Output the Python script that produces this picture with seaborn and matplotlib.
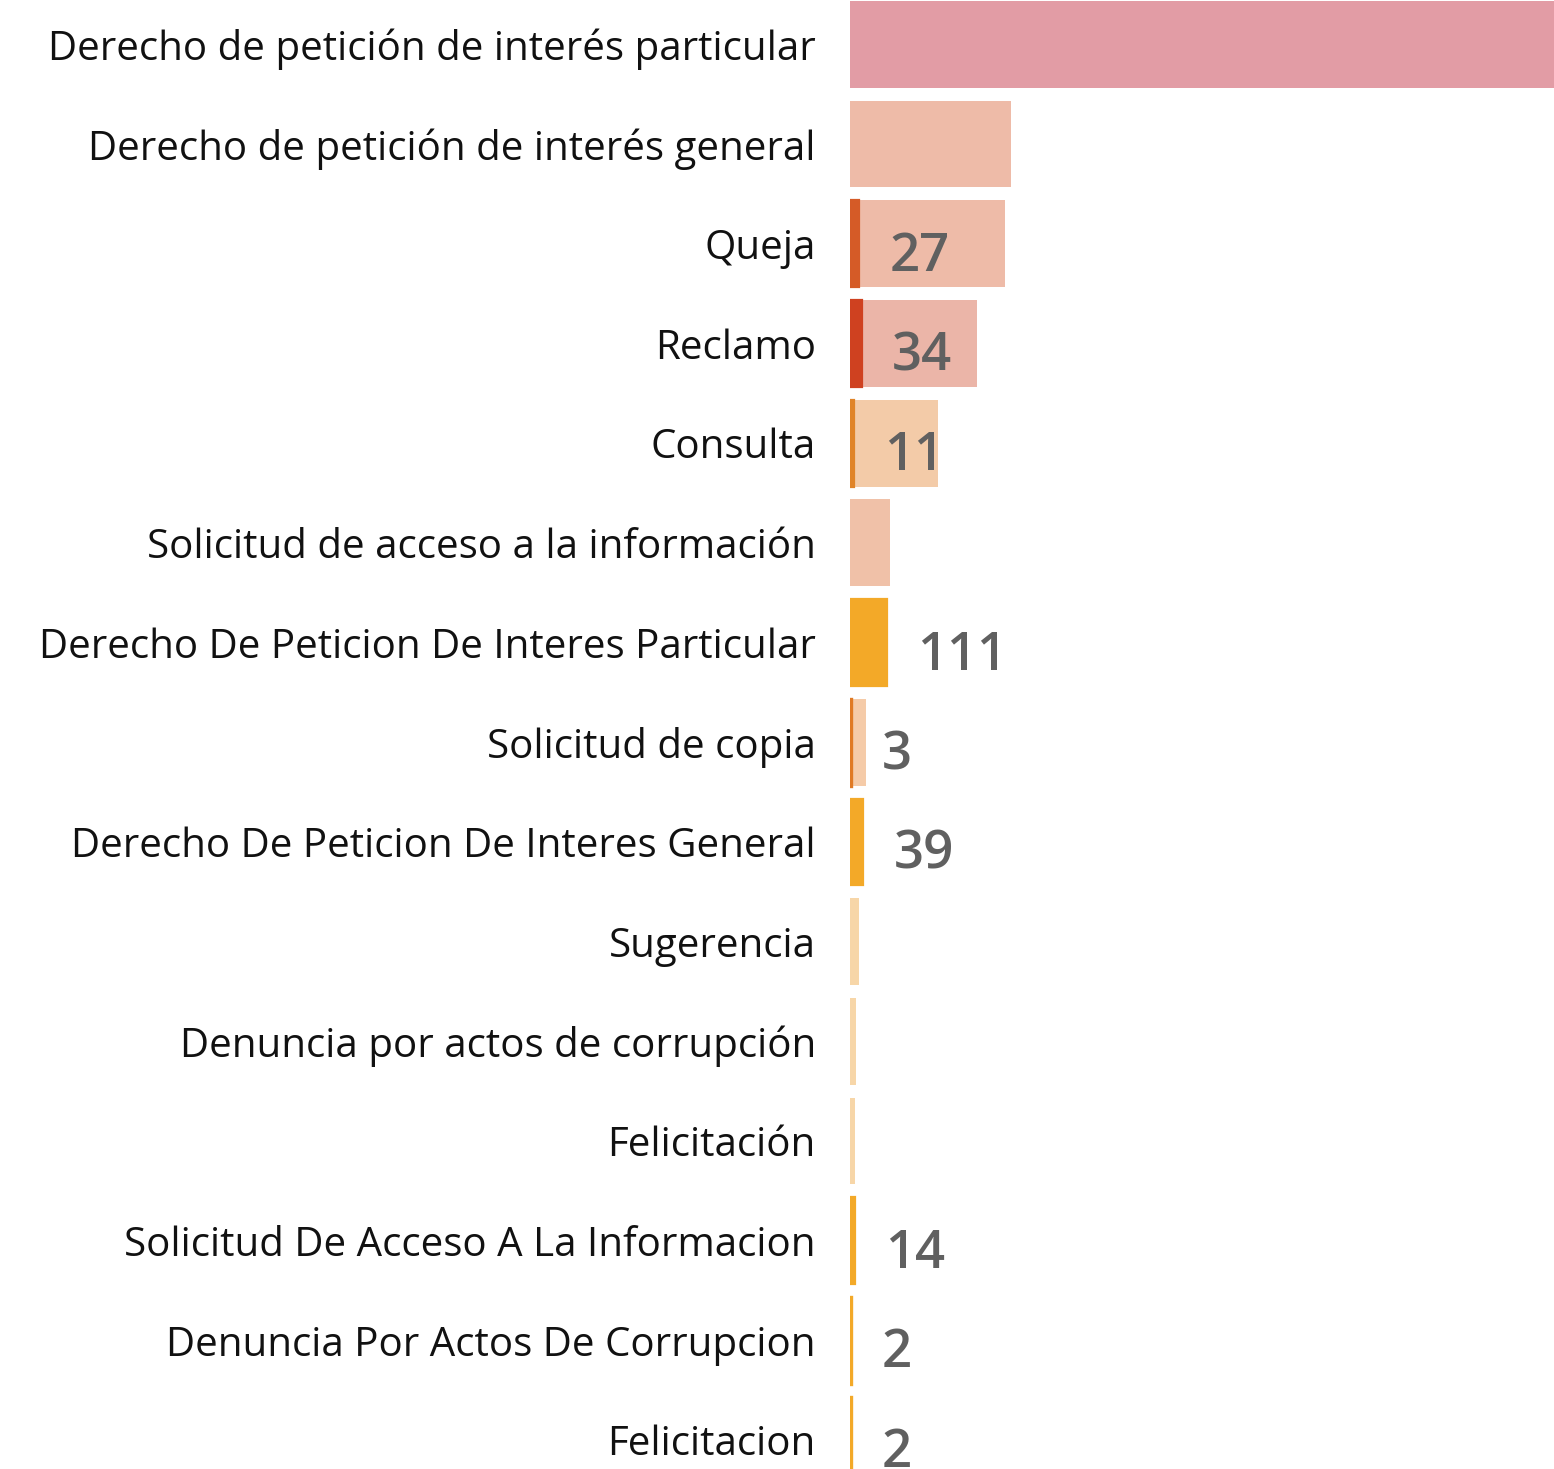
import matplotlib
matplotlib.use("Agg")
import matplotlib.pyplot as plt
import pandas as pd
import seaborn as sns

# categories, top to bottom
categories = [
    "Derecho de petición de interés particular",
    "Derecho de petición de interés general",
    "Queja",
    "Reclamo",
    "Consulta",
    "Solicitud de acceso a la información",
    "Derecho De Peticion De Interes Particular",
    "Solicitud de copia",
    "Derecho De Peticion De Interes General",
    "Sugerencia",
    "Denuncia por actos de corrupción",
    "Felicitación",
    "Solicitud De Acceso A La Informacion",
    "Denuncia Por Actos De Corrupcion",
    "Felicitacion",
]
# background (total) bars
totals = [2300, 483, 465, 381, 264, 120, 0, 48, 0, 27, 18, 15, 0, 0, 0]
# foreground bars with value labels
subset = [0, 0, 27, 34, 11, 0, 111, 3, 39, 0, 0, 0, 14, 2, 2]

light_colors = [
    "#E29CA5", "#EEBBA8", "#EEBBA8", "#EBB5A8", "#F3CBA8", "#F0C1A8",
    "#F3A928", "#F5CBA8", "#F3A928", "#F7D6A8", "#F7D6A8", "#F7D6A8",
    "#F3A928", "#F3A928", "#F3A928",
]
dark_colors = [
    "#B6081E", "#D55B27", "#D55B27", "#CF4120", "#E08428", "#D96A2A",
    "#F3A928", "#E07A24", "#F3A928", "#F0A030", "#F0A030", "#F0A030",
    "#F3A928", "#F3A928", "#F3A928",
]

df = pd.DataFrame({"categoria": categories, "total": totals, "subset": subset})

sns.set_style("white")
plt.rcParams["font.family"] = ["Open Sans", "DejaVu Sans"]

fig = plt.figure(figsize=(15.54, 14.69), dpi=100)
ax = fig.add_axes([850.5 / 1554, 0, 1 - 850.5 / 1554, 1])

sns.barplot(
    data=df, x="total", y="categoria", hue="categoria",
    palette=dict(zip(categories, light_colors)), orient="h",
    width=0.87, saturation=1, legend=False, ax=ax, linewidth=0,
)
n_bg = len(ax.patches)
sns.barplot(
    data=df, x="subset", y="categoria", hue="categoria",
    palette=dict(zip(categories, dark_colors)), orient="h",
    width=0.87, saturation=1, legend=False, ax=ax, linewidth=0,
)
# thin foreground bars get an edge so they stay visible
for patch in ax.patches[n_bg:]:
    w = patch.get_width()
    if w > 0:
        patch.set_edgecolor(patch.get_facecolor())
        patch.set_linewidth(2.4 if w <= 3 else 1.6)

for i, v in enumerate(subset):
    if v > 0:
        ax.annotate(
            str(v), xy=(v, i), xytext=(30, -27), textcoords="offset pixels",
            ha="left", va="baseline", fontsize=38, fontweight="semibold",
            color="#606060",
        )

ax.set_xlim(0, 2112)
ax.set_ylim(14.29, -0.445)
ax.set_xlabel("")
ax.set_ylabel("")
ax.set_xticks([])
ax.tick_params(axis="y", length=0, pad=25, labelsize=29, labelcolor="#111111")
sns.despine(ax=ax, left=True, bottom=True)

fig.savefig("out.png", dpi=100)
